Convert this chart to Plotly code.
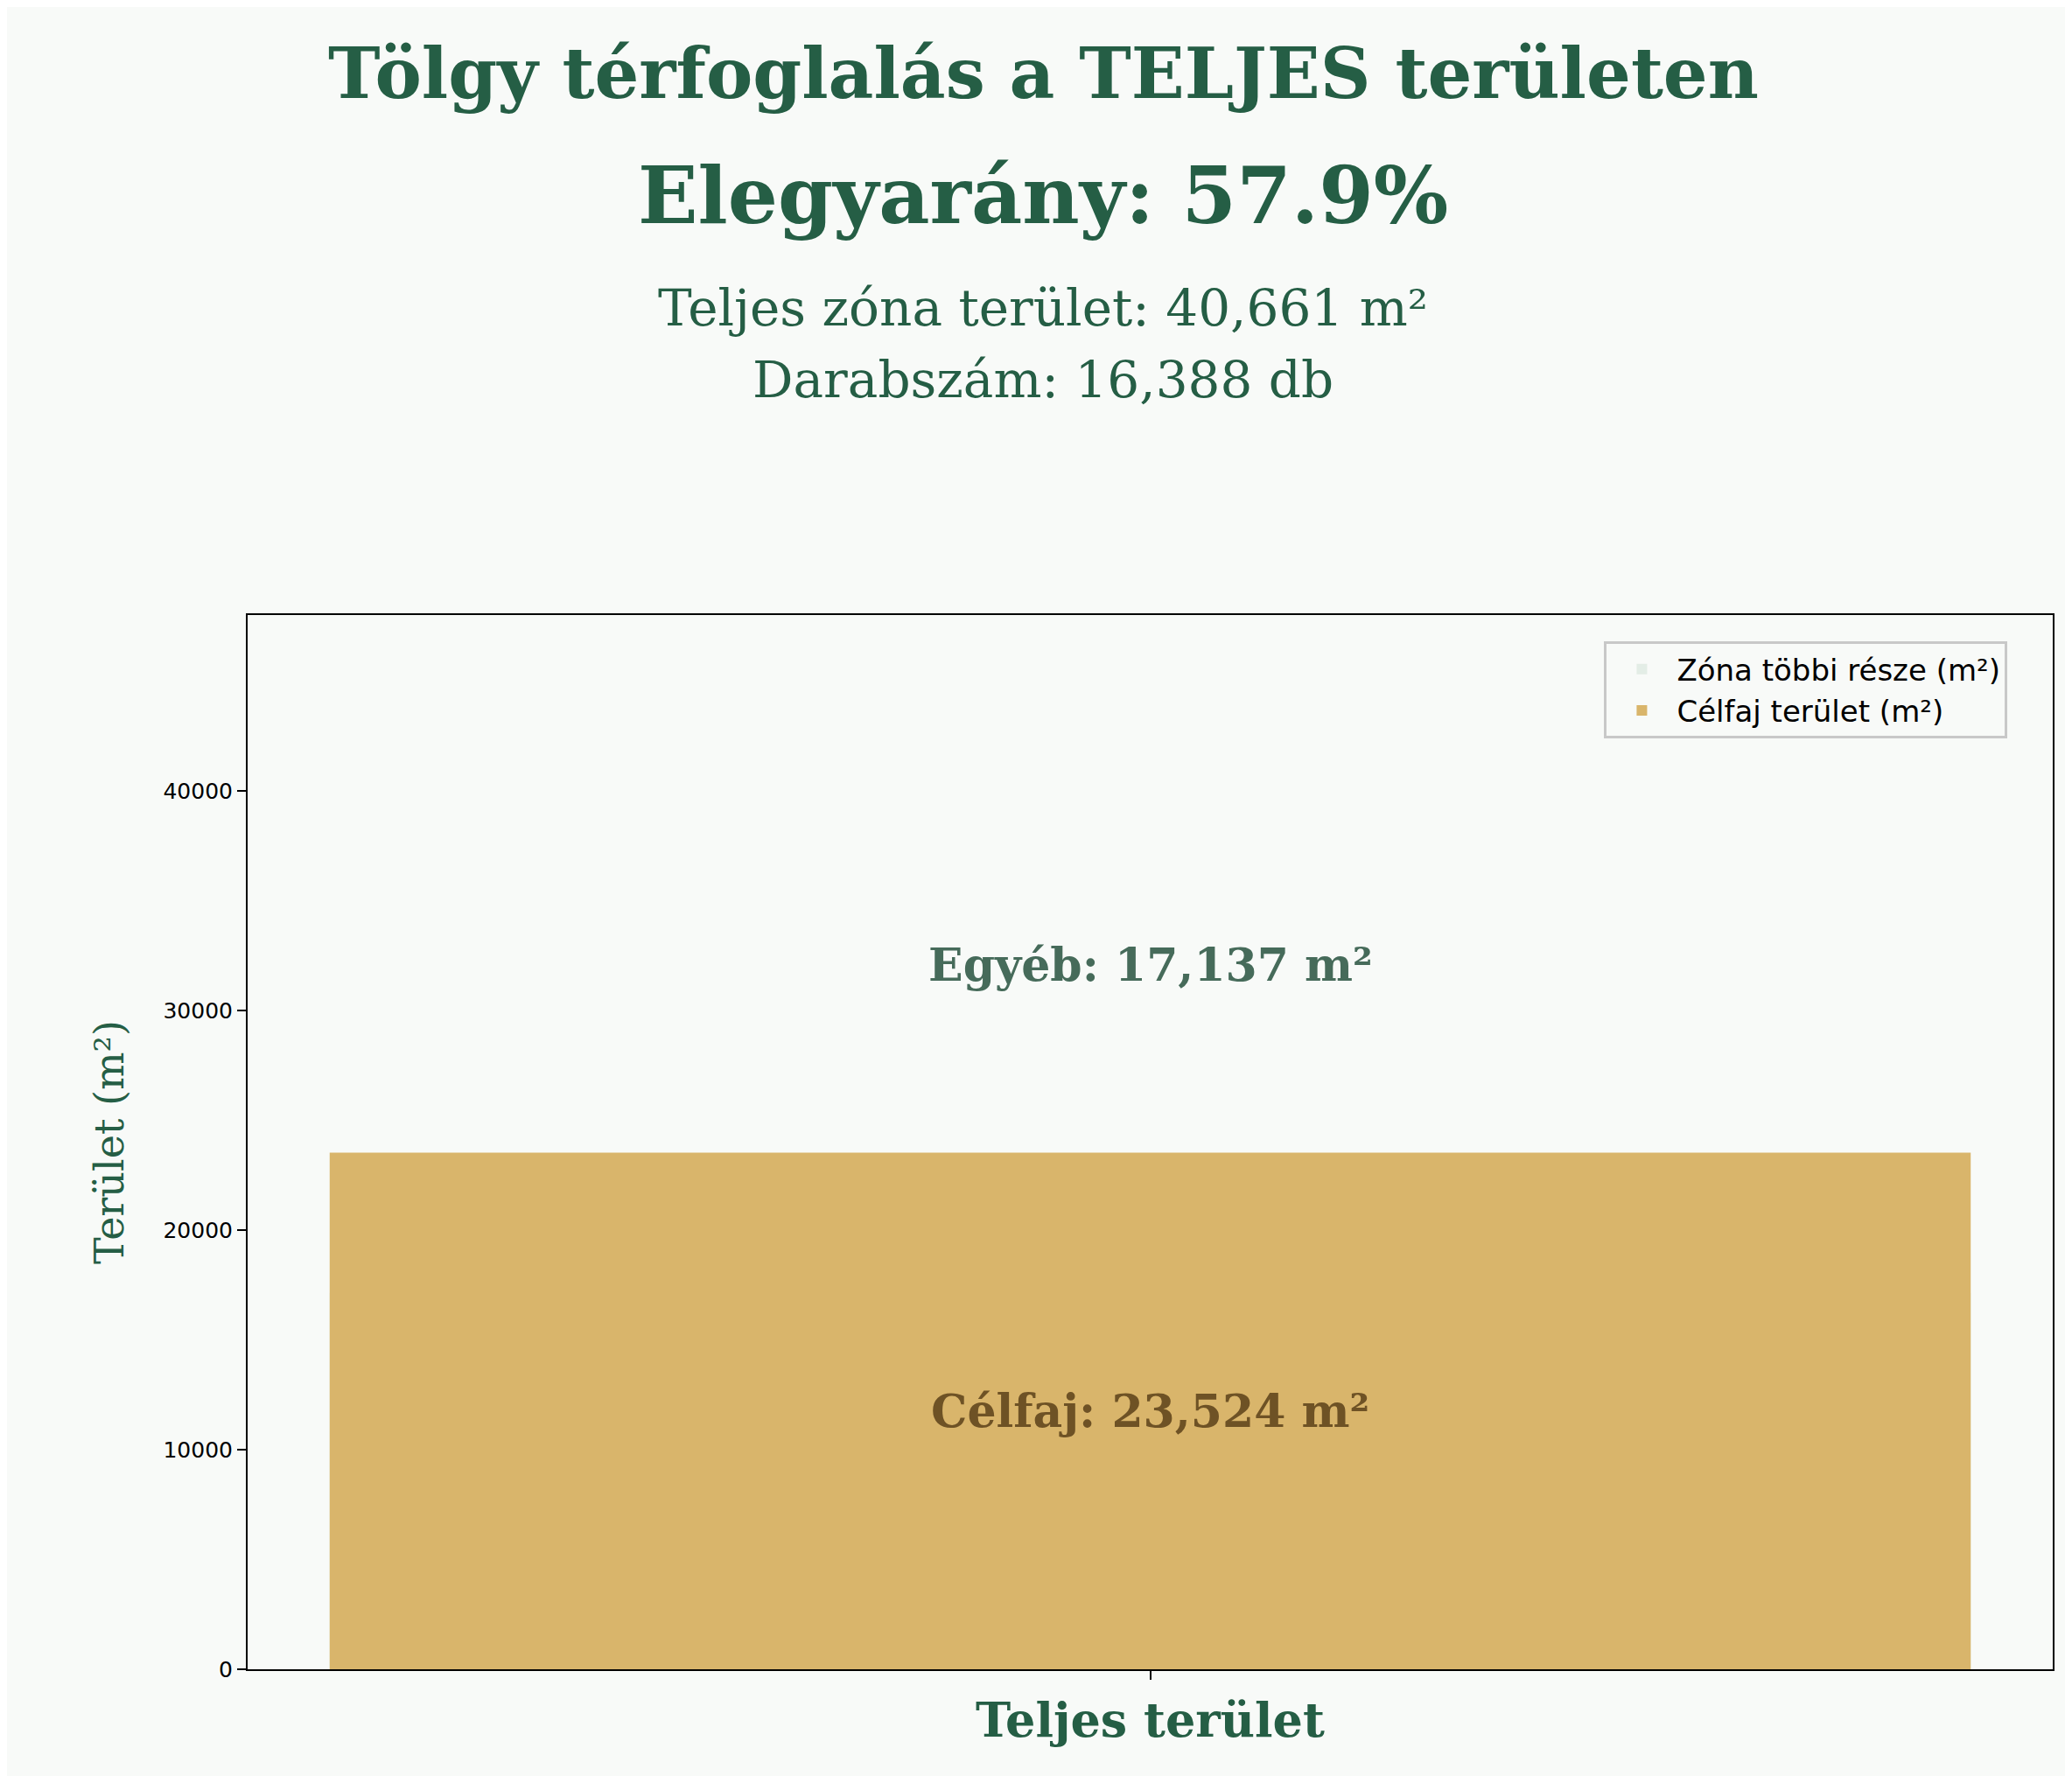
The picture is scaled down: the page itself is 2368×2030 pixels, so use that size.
import plotly.graph_objects as go

categories = ["Teljes terület"]
celfaj = [23524]
egyeb = [17137]
total = 40661
count = 16388
ratio = 57.9

fig = go.Figure()
fig.add_trace(go.Bar(x=[0], y=egyeb, width=0.8, name="Zóna többi része (m²)",
                     marker=dict(color="#e3ede6", line=dict(width=0))))
fig.add_trace(go.Bar(x=[0], y=celfaj, width=0.8, name="Célfaj terület (m²)",
                     marker=dict(color="#d9b56b", line=dict(width=0))))

fig.add_annotation(x=0, y=celfaj[0] + egyeb[0] / 2, text=f"<b>Egyéb: {egyeb[0]:,} m²</b>",
                   showarrow=False, font=dict(family="DejaVu Serif", size=52, color="#466b5a"))
fig.add_annotation(x=0, y=celfaj[0] / 2, text=f"<b>Célfaj: {celfaj[0]:,} m²</b>",
                   showarrow=False, font=dict(family="DejaVu Serif", size=52, color="#6e5225"))

tc = "#255e45"
fig.add_annotation(xref="paper", yref="paper", x=0.5, y=0, xanchor="center", yanchor="middle",
                   text="<b>Tölgy térfoglalás a TELJES területen</b>", showarrow=False,
                   font=dict(family="DejaVu Serif", size=80, color=tc))
texts = [("<b>Tölgy térfoglalás a TELJES területen</b>", 76, 80),
         (f"<b>Elegyarány: {ratio}%</b>", 215, 90),
         (f"Teljes zóna terület: {total:,} m²", 344, 58),
         (f"Darabszám: {count:,} db", 426, 58)]
fig.layout.annotations = fig.layout.annotations[:2]
H = 2030
for t, yp, s in texts:
    fig.add_annotation(xref="paper", yref="paper", x=(275 + 1031 - 275 + 275) / 2368 * 0 + 0.5 - (0), y=0,
                       text=t, showarrow=False)
fig.layout.annotations = fig.layout.annotations[:2]
# paper coordinates relative to plot area: plot area y 695..1900 px
for t, yp, s in texts:
    ypaper = (1900 - yp) / (1900 - 695)
    xpaper = (1184 - 275) / (2338 - 275)
    fig.add_annotation(xref="paper", yref="paper", x=xpaper, y=ypaper, xanchor="center", yanchor="middle",
                       text=t, showarrow=False, font=dict(family="DejaVu Serif", size=s, color=tc))

fig.update_layout(
    width=2368, height=2030, barmode="overlay",
    paper_bgcolor="#f8faf8", plot_bgcolor="#f8faf8",
    margin=dict(l=275, r=30, t=695, b=130),
    showlegend=True,
    legend=dict(x=0.975, y=0.975, xanchor="right", yanchor="top", bgcolor="#f8faf8",
                bordercolor="#c8c8c8", borderwidth=3, font=dict(family="DejaVu Sans", size=34, color="black"),
                itemwidth=70, tracegroupgap=10),
    font=dict(family="DejaVu Sans"),
)
fig.update_xaxes(range=[-0.44, 0.44], tickvals=[0], ticktext=["<b>" + categories[0] + "</b>"],
                 tickfont=dict(family="DejaVu Serif", size=54, color=tc),
                 showline=True, linecolor="black", linewidth=2, mirror=True, showgrid=False,
                 ticks="outside", ticklen=10, tickwidth=2, tickcolor="black", zeroline=False)
fig.update_yaxes(range=[0, 48000], tickvals=[0, 10000, 20000, 30000, 40000],
                 ticktext=["0", "10000", "20000", "30000", "40000"],
                 tickfont=dict(family="DejaVu Sans", size=25, color="black"),
                 title=dict(text="Terület (m²)", font=dict(family="DejaVu Serif", size=46, color=tc), standoff=30),
                 showline=True, linecolor="black", linewidth=2, mirror=True, showgrid=False,
                 ticks="outside", ticklen=10, tickwidth=2, tickcolor="black", zeroline=False)

fig.write_html("out.html")
